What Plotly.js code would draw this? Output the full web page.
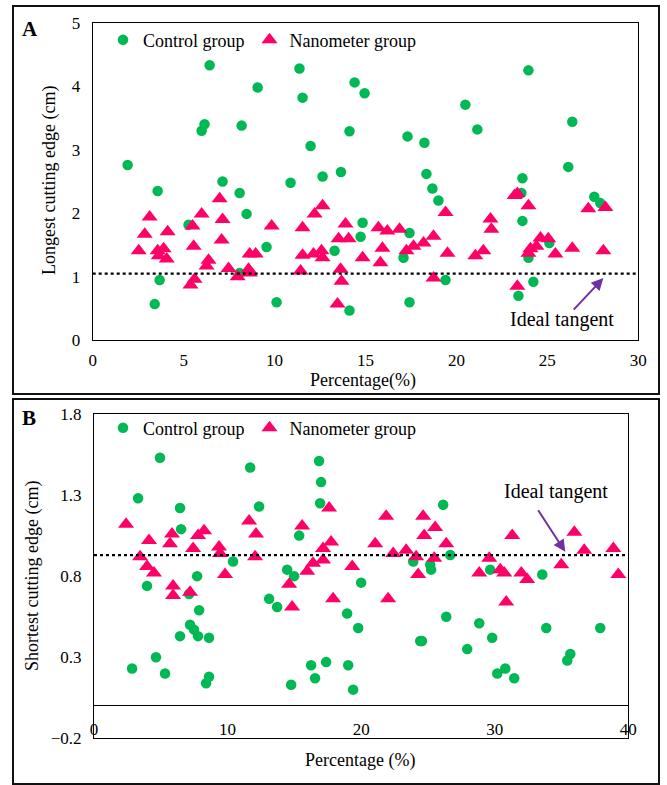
<!DOCTYPE html>
<html>
<head>
<meta charset="utf-8">
<script src="https://cdn.plot.ly/plotly-3.0.1.min.js"></script>
<style>
  html, body { margin: 0; padding: 0; background: #fff; }
  #chart { width: 667px; height: 785px; }
</style>
</head>
<body>
<div id="chart"></div>
<script>
// ---- Panel A: longest cutting edge (cm) vs percentage (%) ----
const aControlX = [1.92, 3.57, 3.41, 3.68, 5.27, 5.99, 6.15, 6.43, 7.14, 8.08, 8.19, 8.46, 8.08, 9.07, 9.56, 10.11, 10.88, 11.37, 11.54, 11.98, 12.64, 13.30, 13.65, 14.12, 14.12, 14.40, 14.95, 14.84, 14.73, 17.09, 17.31, 17.42, 17.42, 18.24, 18.35, 18.68, 19.01, 19.40, 20.49, 21.15, 23.63, 23.57, 23.63, 23.41, 23.96, 23.96, 24.23, 25.11, 26.15, 26.37, 27.58, 27.91];
const aControlY = [2.76, 2.35, 0.57, 0.95, 1.82, 3.30, 3.40, 4.33, 2.50, 2.32, 3.38, 1.99, 1.06, 3.98, 1.47, 0.60, 2.48, 4.28, 3.82, 3.06, 2.58, 1.41, 2.65, 3.29, 0.47, 4.06, 3.89, 1.85, 1.63, 1.30, 3.21, 1.69, 0.60, 3.11, 2.62, 2.39, 2.20, 0.95, 3.71, 3.32, 2.55, 2.32, 1.88, 0.70, 4.25, 1.30, 0.92, 1.53, 2.73, 3.44, 2.26, 2.16];
const aNanoX = [3.13, 2.86, 2.53, 4.12, 3.57, 3.90, 4.07, 3.63, 5.99, 5.49, 5.55, 6.37, 6.26, 5.60, 5.38, 6.98, 7.14, 7.09, 7.47, 7.97, 8.57, 8.63, 8.96, 8.63, 9.84, 11.54, 11.54, 11.43, 12.20, 12.64, 12.14, 12.58, 12.64, 13.52, 13.90, 14.07, 13.63, 13.68, 13.46, 14.84, 15.71, 16.20, 15.93, 15.82, 16.87, 17.25, 17.64, 18.19, 18.74, 18.74, 19.40, 19.51, 21.04, 21.48, 21.87, 21.92, 23.35, 23.20, 23.96, 23.35, 24.07, 24.40, 24.62, 25.05, 25.44, 23.96, 26.37, 27.25, 28.19, 28.08];
const aNanoY = [1.94, 1.67, 1.41, 1.71, 1.41, 1.44, 1.28, 1.33, 1.99, 1.80, 1.48, 1.26, 1.17, 0.96, 0.87, 2.23, 1.90, 1.58, 1.13, 1.00, 1.12, 1.36, 1.36, 1.06, 1.80, 1.77, 1.34, 1.09, 1.99, 2.12, 1.36, 1.41, 1.30, 1.60, 1.83, 1.60, 1.12, 0.93, 0.57, 1.30, 1.77, 1.72, 1.45, 1.22, 1.75, 1.41, 1.48, 1.53, 1.64, 0.98, 2.01, 1.37, 1.33, 1.41, 1.91, 1.75, 2.31, 2.28, 2.12, 0.85, 1.44, 1.48, 1.61, 1.60, 1.36, 1.37, 1.45, 2.07, 2.09, 1.41];
const aIdeal = 1.05;

// ---- Panel B: shortest cutting edge (cm) vs percentage (%) ----
const bControlX = [4.94, 3.30, 6.44, 6.52, 11.69, 12.36, 16.85, 17.00, 16.93, 15.36, 10.41, 7.72, 14.46, 14.98, 3.97, 7.12, 7.87, 13.11, 13.71, 7.19, 7.49, 6.44, 7.79, 8.61, 4.64, 2.85, 5.32, 8.61, 8.39, 14.76, 16.25, 16.55, 17.38, 25.24, 29.66, 33.56, 20.00, 18.95, 19.78, 26.37, 24.42, 24.55, 28.84, 29.81, 27.94, 33.86, 37.90, 19.03, 19.40, 30.79, 30.19, 31.46, 35.66, 35.43, 26.14, 26.67, 23.90, 25.17];
const bControlY = [1.53, 1.28, 1.22, 1.09, 1.47, 1.23, 1.51, 1.38, 1.25, 1.05, 0.89, 0.80, 0.84, 0.80, 0.74, 0.69, 0.59, 0.66, 0.61, 0.50, 0.47, 0.43, 0.43, 0.42, 0.30, 0.23, 0.20, 0.18, 0.14, 0.13, 0.25, 0.17, 0.27, 0.84, 0.84, 0.81, 0.76, 0.57, 0.48, 0.55, 0.40, 0.40, 0.51, 0.42, 0.35, 0.48, 0.48, 0.25, 0.10, 0.23, 0.20, 0.17, 0.32, 0.28, 1.24, 0.93, 0.89, 0.87];
const bNanoX = [2.40, 4.12, 3.45, 3.97, 4.49, 5.84, 5.69, 7.79, 8.24, 7.42, 9.36, 9.44, 9.81, 11.61, 12.13, 12.06, 15.58, 17.60, 17.75, 17.15, 17.15, 16.40, 15.96, 5.92, 5.92, 7.19, 14.61, 14.83, 17.90, 21.87, 24.64, 25.54, 24.72, 21.05, 22.40, 23.37, 24.12, 26.37, 25.47, 19.33, 24.27, 29.59, 28.84, 30.41, 30.71, 31.31, 31.99, 32.43, 34.98, 35.96, 36.70, 38.88, 39.25, 22.02, 30.86];
const bNanoY = [1.12, 1.02, 0.92, 0.86, 0.82, 1.06, 1.00, 1.05, 1.08, 0.97, 0.98, 0.94, 0.81, 1.14, 1.06, 0.92, 1.11, 1.22, 1.01, 0.97, 0.90, 0.88, 0.83, 0.74, 0.68, 0.70, 0.75, 0.61, 0.66, 1.17, 1.17, 1.10, 1.05, 1.00, 0.94, 0.96, 0.92, 1.00, 0.91, 0.86, 0.81, 0.91, 0.82, 0.84, 0.82, 1.05, 0.82, 0.78, 0.87, 1.07, 0.96, 0.97, 0.81, 0.66, 0.64];
const bIdeal = 0.93;

const seriesNames = ['Control group', 'Nanometer group'];

// ---- styling ----
const W = 667, H = 785;
const SERIF = '"Liberation Serif", "Times New Roman", serif';
const GREEN = '#00B854';
const PINK = '#FF0066';
const PURPLE = '#7030A0';
const px = v => v / W;          // pixel -> paper x
const py = v => 1 - v / H;      // pixel -> paper y

const circle = { symbol: 'circle', size: 10.5, color: GREEN };
const tri = { symbol: 'triangle-up', size: 14, color: PINK };

const traces = [
  { x: aControlX, y: aControlY, name: seriesNames[0], type: 'scatter', mode: 'markers', marker: circle, xaxis: 'x', yaxis: 'y', legend: 'legend' },
  { x: aNanoX, y: aNanoY, name: seriesNames[1], type: 'scatter', mode: 'markers', marker: tri, xaxis: 'x', yaxis: 'y', legend: 'legend' },
  { x: bControlX, y: bControlY, name: seriesNames[0], type: 'scatter', mode: 'markers', marker: circle, xaxis: 'x2', yaxis: 'y2', legend: 'legend2' },
  { x: bNanoX, y: bNanoY, name: seriesNames[1], type: 'scatter', mode: 'markers', marker: tri, xaxis: 'x2', yaxis: 'y2', legend: 'legend2' }
];

const axisBase = {
  showgrid: false, zeroline: false, showline: true, mirror: true,
  linecolor: '#000', linewidth: 1, ticks: '',
  tickfont: { family: SERIF, size: 17, color: '#000' }
};

const legendBase = {
  orientation: 'h', xanchor: 'left', yanchor: 'middle',
  bgcolor: 'rgba(0,0,0,0)', borderwidth: 0,
  font: { family: SERIF, size: 18, color: '#000' },
  itemclick: false, itemdoubleclick: false
};

const txt = (size, extra) => Object.assign({ family: SERIF, size: size, color: '#000' }, extra || {});

// centred text label placed in pixel units on the page
const label = (text, x, y, size, angle) => ({
  text: text, xref: 'paper', yref: 'paper', x: px(x), y: py(y),
  xanchor: 'center', yanchor: 'middle', textangle: angle || 0,
  showarrow: false, font: txt(size)
});

const layout = {
  width: W, height: H,
  margin: { l: 0, r: 0, t: 0, b: 0 },
  paper_bgcolor: '#fff', plot_bgcolor: '#fff',
  showlegend: true,
  xaxis: Object.assign({}, axisBase, {
    domain: [px(92.7), px(638.3)], range: [0, 30], tick0: 0, dtick: 5,
    anchor: 'y', ticklabelstandoff: 4
  }),
  yaxis: Object.assign({}, axisBase, {
    domain: [py(340.3), py(22.7)], range: [0, 5], tick0: 0, dtick: 1,
    anchor: 'x', ticklabelstandoff: 8
  }),
  xaxis2: Object.assign({}, axisBase, {
    domain: [px(94), px(628.3)], range: [0, 40], tick0: 0, dtick: 10,
    anchor: 'y2', ticklabelposition: 'inside', ticklabeloverflow: 'allow'
  }),
  yaxis2: Object.assign({}, axisBase, {
    domain: [py(738.3), py(414)], range: [-0.2, 1.8], tick0: -0.2, dtick: 0.5,
    tickformat: '.1f', anchor: 'x2', ticklabelstandoff: 8,
    zeroline: true, zerolinecolor: '#000', zerolinewidth: 1
  }),
  legend: Object.assign({}, legendBase, { x: px(103), y: py(40) }),
  legend2: Object.assign({}, legendBase, { x: px(103), y: py(428) }),
  shapes: [
    // panel frames
    { type: 'rect', xref: 'paper', yref: 'paper', x0: px(13), x1: px(659), y0: py(394), y1: py(6), line: { color: '#111', width: 2 } },
    { type: 'rect', xref: 'paper', yref: 'paper', x0: px(13), x1: px(659), y0: py(784), y1: py(399), line: { color: '#111', width: 2 } },
    // ideal tangent reference lines
    { type: 'line', xref: 'x', yref: 'y', x0: 0, x1: 30, y0: aIdeal, y1: aIdeal, line: { color: '#000', width: 2.2, dash: 'dot' } },
    { type: 'line', xref: 'x2', yref: 'y2', x0: 0, x1: 40, y0: bIdeal, y1: bIdeal, line: { color: '#000', width: 2.2, dash: 'dot' } }
  ],
  annotations: [
    label('<b>A</b>', 30, 29, 21),
    label('<b>B</b>', 29, 418, 21),
    // axis titles
    label('Percentage(%)', 363, 380, 18),
    label('Longest cutting edge (cm)', 50, 181, 18, -90),
    label('Percentage (%)', 360, 760, 18),
    label('Shortest cutting edge (cm)', 32, 576, 18, -90),
    // ideal tangent callouts
    { text: 'Ideal tangent', xref: 'x', yref: 'y', x: 25.8, y: 0.32, xanchor: 'center', yanchor: 'middle',
      showarrow: false, font: txt(20), bgcolor: '#fff' },
    { text: '', xref: 'x', yref: 'y', x: 28.08, y: 0.98, axref: 'x', ayref: 'y', ax: 26.37, ay: 0.46,
      showarrow: true, arrowcolor: PURPLE, arrowwidth: 2, arrowhead: 2, arrowsize: 1.2 },
    { text: 'Ideal tangent', xref: 'x2', yref: 'y2', x: 34.6, y: 1.32, xanchor: 'center', yanchor: 'middle',
      showarrow: false, font: txt(20), bgcolor: '#fff' },
    { text: '', xref: 'x2', yref: 'y2', x: 35.28, y: 0.95, axref: 'x2', ayref: 'y2', ax: 33.18, ay: 1.216,
      showarrow: true, arrowcolor: PURPLE, arrowwidth: 2, arrowhead: 2, arrowsize: 1.2 }
  ]
};

Plotly.newPlot('chart', traces, layout, { staticPlot: true, displayModeBar: false });
</script>
</body>
</html>
